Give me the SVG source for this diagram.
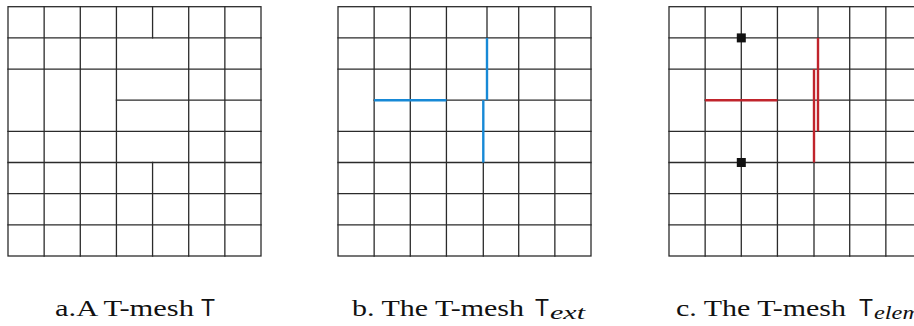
<svg xmlns="http://www.w3.org/2000/svg" width="914" height="326" viewBox="0 0 914 326">
<style>
  .g { stroke: #2b2b2b; stroke-width: 1.3; fill: none; stroke-linecap: square; }
  .blue { stroke: #1789d6; stroke-width: 2.4; fill: none; }
  .red { stroke: #c0242c; stroke-width: 2.4; fill: none; }
  .pt { fill: #111111; }
  .rm { font-family: "Liberation Serif", "Times New Roman", serif; font-size: 24px; fill: #111111; }
  .sf { font-family: "Liberation Sans", Arial, sans-serif; font-size: 23px; fill: #111111; }
  .it { font-family: "Liberation Serif", "Times New Roman", serif; font-style: italic; font-size: 18px; fill: #111111; }
</style>
<defs>
  <g id="common">
    <rect class="g" x="0" y="0" width="253" height="249.3"/>
    <path class="g" d="M36.14,0V249.3 M72.29,0V249.3 M108.43,0V249.3 M180.71,0V249.3 M216.86,0V249.3
      M0,31.16H253 M0,62.33H253 M0,124.65H253 M0,155.81H253 M0,186.98H253 M0,218.14H253"/>
  </g>
</defs>

<g id="mesh-a" transform="translate(8,6.7)">
  <use href="#common"/>
  <path class="g" d="M144.57,0V31.16 M144.57,155.81V249.3 M108.43,93.49H253"/>
</g>

<g id="mesh-b" transform="translate(338,6.7)">
  <use href="#common"/>
  <path class="g" d="M149,0V31.16 M145.3,155.81V249.3 M36.14,93.49H253"/>
  <g id="ext-lines">
    <path class="blue" d="M36.14,93.49H108.43"/>
    <path class="blue" d="M149,31.16V93.49"/>
    <path class="blue" d="M145.3,93.49V155.81"/>
  </g>
</g>

<g id="mesh-c" transform="translate(669,6.7)">
  <use href="#common"/>
  <path class="g" d="M149,0V31.16 M145,155.81V249.3 M36.14,93.49H253"/>
  <g id="elem-lines">
    <path class="red" d="M36.14,93.49H108.43"/>
    <path class="red" d="M149,31.16V124.65"/>
    <path class="red" d="M145,62.33V155.81"/>
  </g>
  <rect class="pt" x="67.8" y="26.7" width="9" height="9"/>
  <rect class="pt" x="67.8" y="151.3" width="9" height="9"/>
</g>

<g id="labels">
  <text class="rm" x="55" y="316" textLength="139" lengthAdjust="spacingAndGlyphs">a.A T-mesh</text>
  <text class="sf" x="201" y="316" textLength="14" lengthAdjust="spacingAndGlyphs">T</text>

  <text class="rm" x="352" y="316" textLength="172" lengthAdjust="spacingAndGlyphs">b. The T-mesh</text>
  <text class="sf" x="535" y="316" textLength="14" lengthAdjust="spacingAndGlyphs">T</text>
  <text class="it" x="550" y="319" textLength="35" lengthAdjust="spacingAndGlyphs">ext</text>

  <text class="rm" x="676" y="316" textLength="170" lengthAdjust="spacingAndGlyphs">c. The T-mesh</text>
  <text class="sf" x="859" y="316" textLength="14" lengthAdjust="spacingAndGlyphs">T</text>
  <text class="it" x="874" y="319" textLength="46" lengthAdjust="spacingAndGlyphs">elem</text>
</g>
</svg>
